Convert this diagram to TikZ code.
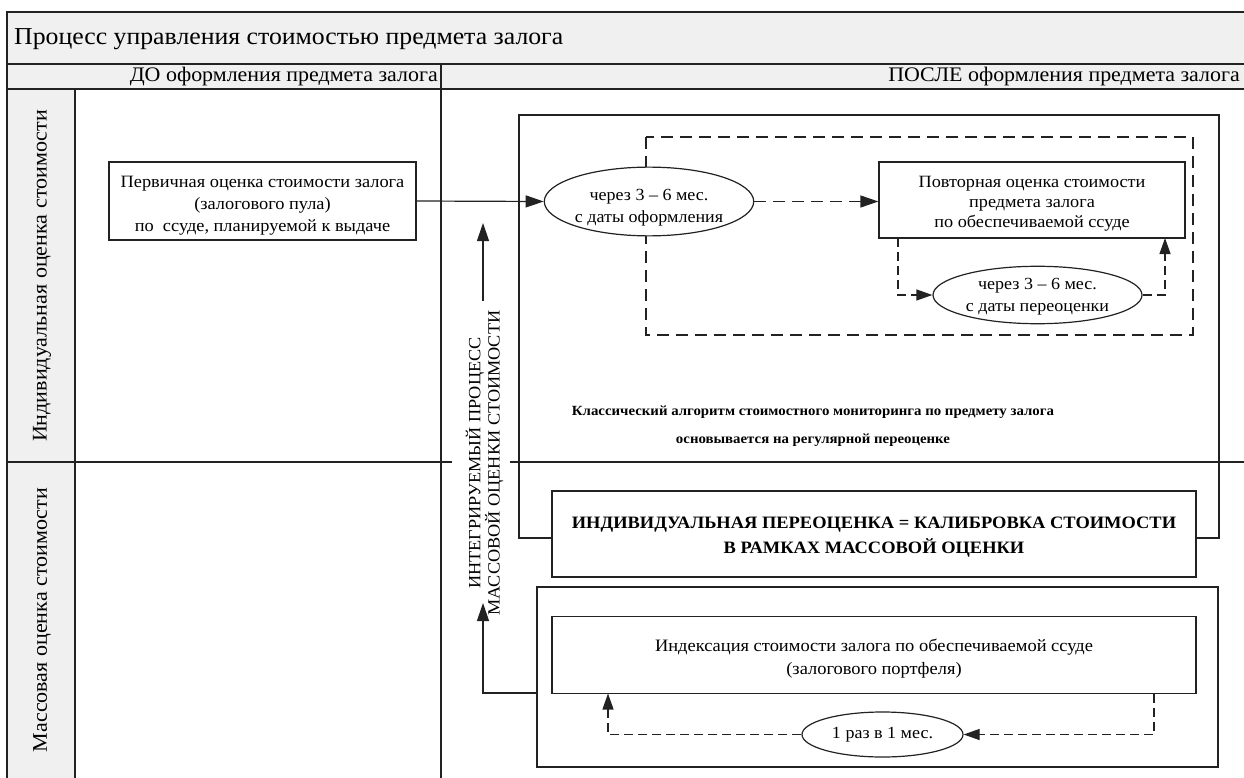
\documentclass[tikz,border=0pt]{standalone}
\usepackage{fontspec}
\setmainfont{Liberation Serif}[FakeStretch=1.06]
\usetikzlibrary{arrows.meta,shapes.geometric}
\definecolor{hdr}{HTML}{F0F0F0}
\definecolor{ink}{HTML}{222222}
\newcommand\fz[2]{\fontsize{#1}{#2}\selectfont}
\newcommand\dn[1]{\rule{0pt}{#1}}
\begin{document}
\begin{tikzpicture}[x=1pt,y=-1pt,
  frame/.style={draw=ink, line width=1.4pt},
  thin/.style={draw=ink, line width=1.2pt},
  box/.style={draw=ink, line width=1.2pt, fill=white, rectangle, inner sep=0pt, align=center, font=\fz{17.3}{22}},
  oval/.style={draw=ink, line width=1.2pt, fill=white, ellipse, inner sep=0pt, align=center, font=\fz{17}{22}},
  arr/.style={draw=ink, line width=1.2pt, -{Triangle[length=18pt,width=12pt]}},
  darr/.style={draw=ink, line width=1.2pt, dash pattern=on 12pt off 7pt, -{Triangle[length=18pt,width=12pt]}},
  sarr/.style={draw=ink, line width=1.2pt, dash pattern=on 9pt off 5pt, -{Triangle[length=16pt,width=11pt]}},
  dbox/.style={draw=ink, line width=1.2pt, dash pattern=on 12pt off 7pt},
  lbl/.style={inner sep=0pt, text=black}
]
\useasboundingbox (0,0) rectangle (1244,778);
% header bands
\filldraw[fill=hdr, frame] (7,12) rectangle (1250,64);
\filldraw[fill=hdr, frame] (7,64) rectangle (1250,89);
\filldraw[fill=hdr, frame] (7,89) rectangle (75,785);
\draw[frame] (441,64) -- (441,785);
\draw[frame] (7,462) -- (452,462);
\draw[frame] (510,462) -- (1250,462);
\node[lbl, anchor=west, font=\fz{24.3}{28}] (title) at (14,39) {Процесс управления стоимостью предмета залога};
\node[lbl, anchor=east, font=\fz{20.7}{24}] (before) at (438,77) {ДО оформления предмета залога};
\node[lbl, anchor=east, font=\fz{20.7}{24}] (after) at (1240,77) {ПОСЛЕ оформления предмета залога};
\node[lbl, rotate=90, font=\fz{20.8}{24}] (lane1) at (42,276) {Индивидуальная оценка стоимости};
\node[lbl, rotate=90, font=\fz{20.8}{24}] (lane2) at (42,620) {Массовая оценка стоимости};

% outer frames
\draw[thin] (519,115) rectangle (1219,538);
\draw[dbox] (646,137) rectangle (1193,335);
\draw[thin] (537,587) rectangle (1218,767);

% nodes
\node[box, minimum width=307pt, minimum height=78pt] (prim) at (262.5,201) {\dn{20pt}Первичная оценка стоимости залога\\(залогового пула)\\по\ \ ссуде, планируемой к выдаче};
\node[oval, minimum width=208pt, minimum height=53pt] (ell1) at (649,201.5) {\dn{23pt}через 3 – 6 мес.\\с даты оформления};
\node[box, minimum width=306pt, minimum height=76pt, font=\fz{17.2}{20}] (rep) at (1032,200) {\dn{18pt}Повторная оценка стоимости\\предмета залога\\по обеспечиваемой ссуде};
\node[oval, minimum width=209pt, minimum height=50pt] (ell2) at (1037.5,295) {\dn{15pt}через 3 – 6 мес.\\с даты переоценки};
\node[lbl, align=center, font=\bfseries\fz{14}{28}] (classic) at (813,426) {Классический алгоритм стоимостного мониторинга по предмету залога\\основывается на регулярной переоценке};
\node[box, minimum width=644pt, minimum height=86pt, font=\bfseries\fz{17.4}{25}] (calib) at (874,534) {\dn{18.5pt}ИНДИВИДУАЛЬНАЯ ПЕРЕОЦЕНКА = КАЛИБРОВКА СТОИМОСТИ\\В РАМКАХ МАССОВОЙ ОЦЕНКИ};
\node[box, minimum width=644pt, minimum height=77pt, font=\fz{17.4}{23}] (index) at (874,655) {\dn{20pt}Индексация стоимости залога по обеспечиваемой ссуде\\(залогового портфеля)};
\node[oval, minimum width=161pt, minimum height=45pt] (ell3) at (882.5,734.5) {1 раз в 1 мес.};
\node[lbl, rotate=90, align=center, font=\fz{17.2}{12.5}] (integ) at (484.5,463) {ИНТЕГРИРУЕМЫЙ ПРОЦЕСС\\МАССОВОЙ ОЦЕНКИ СТОИМОСТИ};

% coordinates
\coordinate (up1a) at (483,301);
\coordinate (up1b) at (483,223);
\coordinate (up2b) at (483,603);
\coordinate (massw) at (537,693);
\coordinate (repdn) at (898,238);
\coordinate (repup) at (1165,238);
\coordinate (idxr) at (1154,693.5);
\coordinate (idxl) at (608,693.5);

% connectors
\draw[arr] (prim.east) -- (ell1.west);
\draw[darr] (ell1.east) -- (ell1.east -| rep.west);
\draw[sarr] (repdn) |- (ell2.west);
\draw[sarr] (ell2.east) -| (repup);
\draw[sarr] (idxr) |- (ell3.east);
\draw[sarr] (ell3.west) -| (idxl);
\draw[arr] (up1a) -- (up1b);
\draw[arr] (massw) -| (up2b);
\end{tikzpicture}
\end{document}
